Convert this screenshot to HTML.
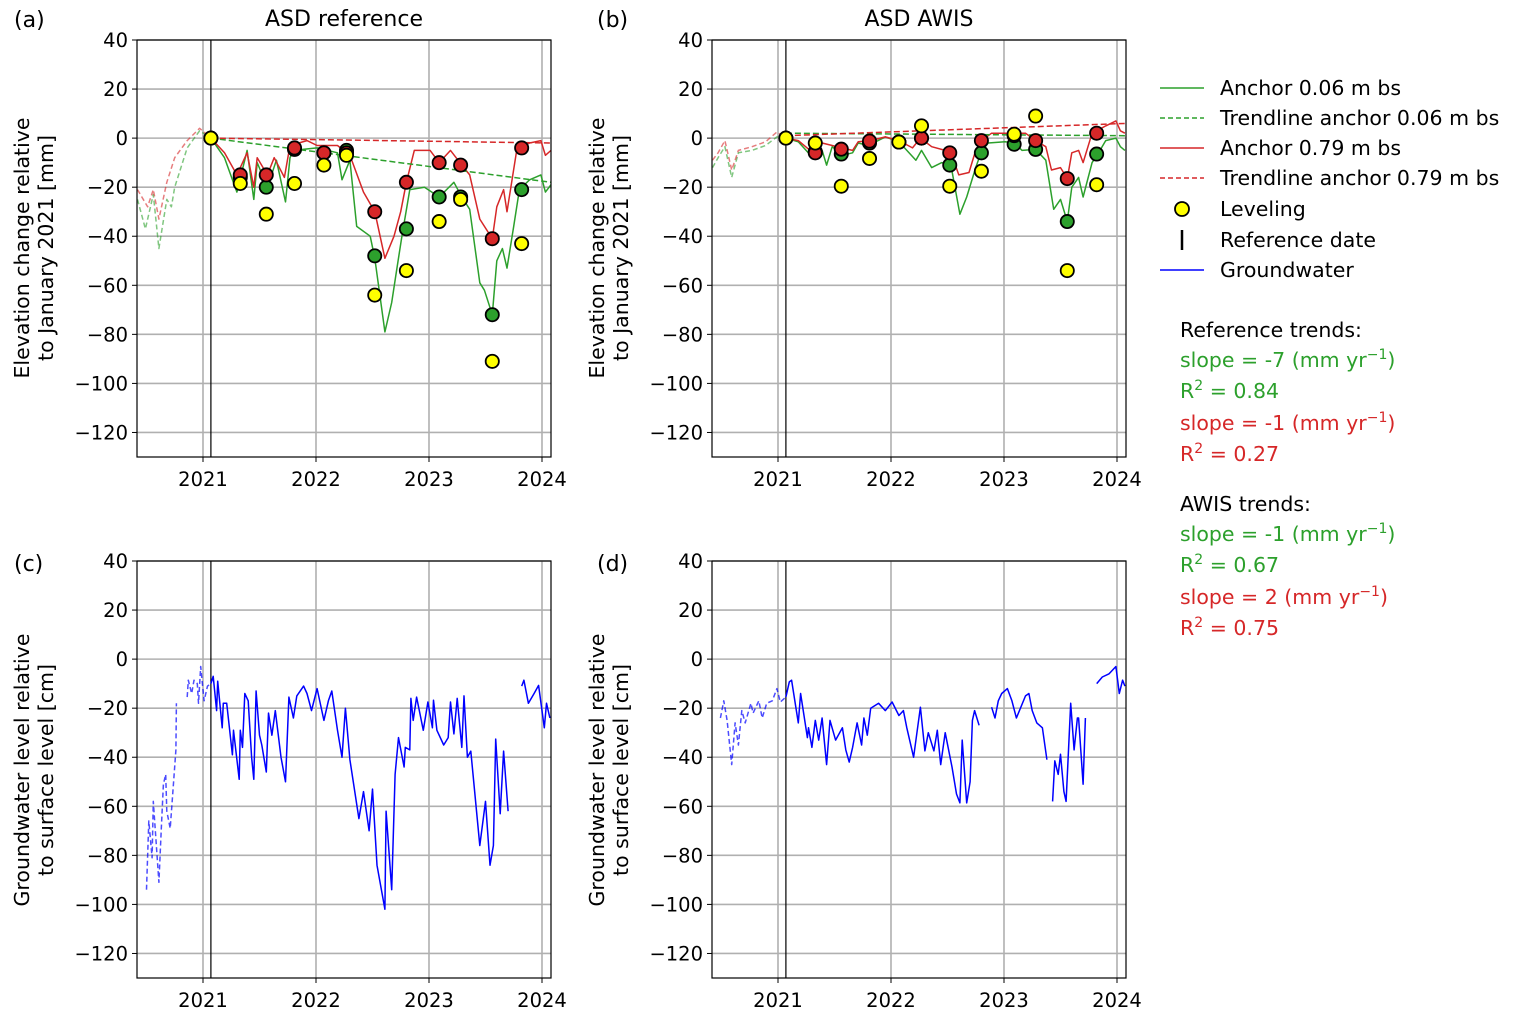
<!DOCTYPE html>
<html><head><meta charset="utf-8"><style>
html,body{margin:0;padding:0;background:#fff;}
svg{display:block;font-family:"DejaVu Sans","Liberation Sans",sans-serif;}
</style></head><body>
<svg id="fig" width="1516" height="1018" viewBox="0 0 1516 1018" xmlns="http://www.w3.org/2000/svg"></svg>
<script>
// ---------- data ----------
const xTicks = [2021, 2022, 2023, 2024];
const yTicks = [40, 20, 0, -20, -40, -60, -80, -100, -120];
const refDate = 2021.07;
const levelDates = [2021.07,2021.33,2021.56,2021.81,2022.07,2022.27,2022.52,2022.80,2023.09,2023.28,2023.56,2023.82];

// panel a (ASD reference)
const aGreenEarly = [[2020.42,-25],[2020.49,-37],[2020.56,-23],[2020.61,-45],[2020.68,-25],[2020.72,-28],[2020.75,-20],[2020.86,-4],[2020.97,3],[2021.07,0]];
const aRedEarly = [[2020.42,-21],[2020.51,-28],[2020.56,-21],[2020.61,-33],[2020.68,-18],[2020.75,-8],[2020.86,-1],[2020.97,4],[2021.07,0]];
const aGreen = [[2021.07,0],[2021.19,-8],[2021.30,-22],[2021.39,-5],[2021.45,-25],[2021.48,-10],[2021.57,-20],[2021.65,-9],[2021.73,-26],[2021.77,-8],[2021.80,-5],[2022.01,-4],[2022.19,-6],[2022.23,-17],[2022.30,-9],[2022.36,-36],[2022.48,-40],[2022.52,-49],[2022.61,-79],[2022.67,-67],[2022.71,-55],[2022.76,-40],[2022.83,-21],[2022.96,-20],[2023.09,-24],[2023.22,-18],[2023.29,-24],[2023.36,-29],[2023.45,-59],[2023.49,-62],[2023.56,-72],[2023.60,-50],[2023.65,-45],[2023.69,-53],[2023.75,-36],[2023.80,-21],[2023.89,-17],[2023.99,-15],[2024.03,-22],[2024.08,-19]];
const aRed = [[2021.07,0],[2021.19,-6],[2021.30,-15],[2021.39,-6],[2021.45,-20],[2021.48,-8],[2021.57,-15],[2021.63,-8],[2021.72,-16],[2021.77,-3],[2021.92,-1],[2022.01,-3],[2022.19,-3],[2022.30,-7],[2022.42,-22],[2022.52,-30],[2022.61,-49],[2022.69,-40],[2022.75,-30],[2022.80,-18],[2022.87,-5],[2023.01,-5],[2023.09,-10],[2023.19,-5],[2023.29,-11],[2023.36,-15],[2023.45,-33],[2023.56,-41],[2023.60,-28],[2023.66,-21],[2023.69,-30],[2023.78,-4],[2023.89,-2],[2023.99,-1],[2024.03,-7],[2024.08,-5]];
const aTrendGreen = [[2021.07,0],[2024.08,-18]];
const aTrendRed = [[2021.07,0],[2024.08,-2]];
const aLevel = [0,-18.5,-31,-18.5,-11,-7,-64,-54,-34,-25,-91,-43];
const aGreenDots = [0,-16,-20,-4.6,-6,-5,-48,-37,-24,-24,-72,-21];
const aRedDots = [0,-15,-15,-4,-6,-6,-30,-18,-10,-11,-41,-4];

// panel b (ASD AWIS)
const bGreenEarly = [[2020.42,-12],[2020.47,-8],[2020.53,-3.5],[2020.59,-16],[2020.65,-6],[2020.77,-5],[2020.89,-3],[2020.99,0.5],[2021.07,0]];
const bRedEarly = [[2020.42,-9],[2020.47,-6],[2020.53,-1],[2020.59,-13],[2020.65,-5],[2020.77,-3.5],[2020.89,-1.5],[2020.99,2.5],[2021.07,0]];
const bGreen = [[2021.07,0],[2021.18,-1.5],[2021.30,-7.6],[2021.39,-5],[2021.43,-11],[2021.48,-3.5],[2021.57,-7],[2021.66,-6],[2021.71,-2],[2021.80,-3],[2021.95,0.5],[2022.07,-1.5],[2022.22,-9],[2022.27,-5],[2022.36,-12],[2022.45,-10],[2022.53,-11],[2022.61,-31],[2022.67,-24],[2022.75,-12],[2022.80,-5.5],[2022.86,-2],[2023.01,-1.5],[2023.09,-2],[2023.16,-5],[2023.28,-4.6],[2023.37,-9],[2023.44,-29],[2023.50,-25],[2023.56,-34],[2023.60,-20],[2023.66,-16],[2023.70,-24],[2023.78,-10],[2023.83,-6.5],[2023.90,-1],[2023.99,0],[2024.03,-3.5],[2024.07,-5]];
const bRed = [[2021.07,0],[2021.18,-1],[2021.30,-5.6],[2021.39,-2],[2021.48,-3],[2021.56,-4],[2021.66,-5],[2021.71,-1.5],[2021.82,-1],[2021.95,0.5],[2022.07,-1],[2022.19,-4],[2022.26,0],[2022.36,-3.5],[2022.48,-5],[2022.53,-6],[2022.60,-15],[2022.69,-14],[2022.75,-5],[2022.80,-1],[2022.89,2],[2023.01,2],[2023.09,2],[2023.19,2],[2023.28,-1],[2023.37,-3.5],[2023.42,-13],[2023.50,-12],[2023.56,-16.5],[2023.60,-6],[2023.66,-5],[2023.70,-10],[2023.78,2],[2023.90,5],[2023.99,7],[2024.03,3],[2024.07,2]];
const bTrendGreen = [[2021.07,2],[2024.08,1]];
const bTrendRed = [[2021.07,1],[2024.08,6]];
const bLevel = [0,-2,-19.6,-8.3,-1.6,5,-19.6,-13.5,1.6,9,-54,-19];
const bGreenDots = [0,-5.5,-6.5,-2,-1.6,0,-11,-6,-2.5,-4.6,-34,-6.5];
const bRedDots = [0,-6,-4.5,-1.2,-1.6,0,-6,-1,1,-1,-16.5,2];

// panel c (groundwater reference)
const cEarly = [[2020.50,-94],[2020.52,-66],[2020.55,-81],[2020.56,-58],[2020.59,-78],[2020.61,-91],[2020.63,-70],[2020.65,-51],[2020.67,-47],[2020.68,-62],[2020.71,-69],[2020.74,-50],[2020.76,-37],[2020.765,-18],[2020.80,null],[2020.86,-15.5],[2020.87,-8.6],[2020.90,-14],[2020.92,-8.6],[2020.95,-10],[2020.96,-18],[2020.98,-3],[2021.01,-17],[2021.04,-11],[2021.07,-10]];
const cGw = [[2021.07,-10],[2021.09,-7],[2021.12,-21],[2021.13,-9],[2021.17,-28],[2021.18,-18],[2021.21,-18],[2021.26,-39],[2021.27,-29],[2021.32,-49],[2021.33,-29],[2021.35,-36],[2021.37,-14],[2021.40,-17],[2021.43,-40],[2021.45,-49],[2021.47,-13],[2021.50,-31],[2021.52,-35],[2021.56,-46],[2021.58,-22],[2021.61,-31],[2021.64,-21],[2021.69,-40],[2021.73,-50],[2021.76,-15.5],[2021.80,-24],[2021.83,-15],[2021.89,-11],[2021.92,-14],[2021.96,-21],[2022.01,-12],[2022.07,-25],[2022.11,-17],[2022.14,-13],[2022.19,-29],[2022.23,-40],[2022.26,-20],[2022.30,-41],[2022.38,-65],[2022.42,-54],[2022.47,-70],[2022.50,-53],[2022.54,-84],[2022.61,-102],[2022.62,-62],[2022.67,-94],[2022.70,-47],[2022.73,-32],[2022.78,-44],[2022.79,-36],[2022.83,-37],[2022.84,-16],[2022.86,-25],[2022.89,-15.5],[2022.95,-29],[2022.99,-17.5],[2023.03,-28],[2023.04,-16.8],[2023.07,-29],[2023.13,-35],[2023.17,-32],[2023.19,-17.5],[2023.22,-30.5],[2023.25,-16],[2023.29,-36],[2023.31,-15],[2023.34,-40],[2023.37,-37.5],[2023.45,-76],[2023.50,-58],[2023.54,-84],[2023.57,-76],[2023.59,-32.6],[2023.63,-63],[2023.66,-37.5],[2023.70,-62],[2023.76,null],[2023.82,-11],[2023.84,-8.6],[2023.88,-18],[2023.93,-14],[2023.97,-10.7],[2024.02,-28],[2024.04,-18],[2024.07,-24]];

// panel d (groundwater AWIS)
const dEarly = [[2020.49,-24],[2020.52,-17],[2020.55,-25],[2020.59,-43],[2020.62,-26],[2020.65,-35],[2020.68,-21],[2020.71,-26],[2020.76,-18],[2020.78,-22],[2020.83,-17],[2020.86,-24],[2020.90,-18],[2020.95,-17],[2020.99,-12],[2021.02,-17.5],[2021.07,-15.5]];
const dGw = [[2021.07,-15.5],[2021.10,-9.3],[2021.12,-8.6],[2021.18,-26],[2021.20,-14],[2021.26,-32],[2021.27,-28],[2021.30,-36],[2021.33,-25],[2021.36,-33],[2021.39,-24],[2021.43,-43],[2021.46,-25],[2021.51,-33],[2021.57,-28],[2021.60,-37],[2021.63,-42],[2021.66,-36],[2021.70,-26],[2021.74,-35],[2021.76,-24],[2021.79,-31],[2021.82,-20],[2021.89,-18],[2021.95,-21],[2022.01,-17.5],[2022.07,-23],[2022.11,-21],[2022.14,-28],[2022.20,-40],[2022.26,-19.6],[2022.30,-37.4],[2022.33,-30],[2022.38,-37.4],[2022.41,-29],[2022.44,-43],[2022.48,-30],[2022.54,-44],[2022.58,-55],[2022.61,-58.6],[2022.63,-33],[2022.67,-58.6],[2022.70,-50],[2022.72,-25],[2022.74,-21],[2022.78,-27],[2022.83,null],[2022.89,-19.6],[2022.92,-24],[2022.95,-17],[2022.98,-14],[2023.03,-12],[2023.07,-17],[2023.11,-24],[2023.19,-15],[2023.22,-14],[2023.25,-21],[2023.29,-26],[2023.34,-28],[2023.38,-41],[2023.40,null],[2023.43,-58],[2023.45,-41.5],[2023.48,-47],[2023.50,-38.8],[2023.53,-54],[2023.55,-58],[2023.59,-18],[2023.62,-37],[2023.65,-24],[2023.66,-24],[2023.70,-51],[2023.72,-24],[2023.76,null],[2023.82,-10],[2023.87,-7.3],[2023.93,-6],[2023.99,-3],[2024.02,-14],[2024.05,-8.6],[2024.07,-11]];

// ---------- drawing ----------
const NS = "http://www.w3.org/2000/svg";
const svg = document.getElementById('fig');
const GREEN = '#2ca02c', RED = '#d62728', BLUE = '#0000ff';
const X0 = 2020.416, PXYR = 113, YMIN = -130, YMAX = 40;

function mk(tag, attrs, parent) {
  const e = document.createElementNS(NS, tag);
  for (const k in attrs) e.setAttribute(k, attrs[k]);
  (parent || svg).appendChild(e);
  return e;
}
function txt(s, attrs, parent) { const e = mk('text', attrs, parent); e.textContent = s; return e; }

function makeAxes(L, T, W, H, id) {
  const sx = t => L + (t - X0) * PXYR;
  const sy = v => T + (YMAX - v) / (YMAX - YMIN) * H;
  const g = mk('g', {});
  
  
  const cp = mk('clipPath', { id: 'clip-' + id }, g);
  mk('rect', { x: L, y: T, width: W, height: H }, cp);
  xTicks.forEach(t => {
    const l = mk('line', { x1: sx(t), x2: sx(t), y1: T, y2: T + H, stroke: '#b0b0b0', 'stroke-width': 1.6 }, g);
    
    
    mk('line', { x1: sx(t), x2: sx(t), y1: T + H, y2: T + H + 5, stroke: '#000', 'stroke-width': 1 }, g);
    const lb = txt(String(t), { x: sx(t), y: T + H + 29, 'text-anchor': 'middle', 'font-size': 19.5 }, g);
    
    
  });
  yTicks.forEach(v => {
    const l = mk('line', { x1: L, x2: L + W, y1: sy(v), y2: sy(v), stroke: '#b0b0b0', 'stroke-width': 1.6 }, g);
    
    
    mk('line', { x1: L - 5, x2: L, y1: sy(v), y2: sy(v), stroke: '#000', 'stroke-width': 1 }, g);
    const lb = txt(String(v).replace('-', '\u2212'), { x: L - 9, y: sy(v) + 7, 'text-anchor': 'end', 'font-size': 19.5 }, g);
    
    
  });
  const ref = mk('line', { x1: sx(refDate), x2: sx(refDate), y1: T, y2: T + H, stroke: '#000', 'stroke-width': 1.2 }, g);
  
  
  const plot = mk('g', { 'clip-path': 'url(#clip-' + id + ')' }, g);
  const frame = mk('rect', { x: L, y: T, width: W, height: H, fill: 'none', stroke: '#000', 'stroke-width': 1.2 }, g);
  
  
  return { sx, sy, plot, g };
}

function line(ax, pairs, color, opts, name) {
  let d = '', pen = false;
  pairs.forEach(p => {
    if (p[1] === null) { pen = false; return; }
    d += (pen ? 'L' : 'M') + ax.sx(p[0]).toFixed(1) + ',' + ax.sy(p[1]).toFixed(1);
    pen = true;
  });
  const a = { d: d, fill: 'none', stroke: color, 'stroke-width': 1.5, 'stroke-linejoin': 'round' };
  Object.assign(a, opts || {});
  const e = mk('path', a, ax.plot);
  
  
}
function dots(ax, vals, color, name) {
  vals.forEach((v, i) => {
    const c = mk('circle', { cx: ax.sx(levelDates[i]), cy: ax.sy(v), r: 6.6, fill: color, stroke: '#000', 'stroke-width': 1.8 }, ax.g);
    
    
  });
}

function elevPanel(L, early, green, red, trG, trR, gD, rD, lev, id) {
  const ax = makeAxes(L, 40, 414, 417, id);
  line(ax, early[0], GREEN, { 'stroke-dasharray': '5,3', opacity: 0.6 }, 'anchor-006-early-dashed');
  line(ax, early[1], RED, { 'stroke-dasharray': '5,3', opacity: 0.6 }, 'anchor-079-early-dashed');
  line(ax, green, GREEN, {}, 'anchor-006-line');
  line(ax, red, RED, {}, 'anchor-079-line');
  line(ax, trG, GREEN, { 'stroke-dasharray': '6,3' }, 'trendline-anchor-006');
  line(ax, trR, RED, { 'stroke-dasharray': '6,3' }, 'trendline-anchor-079');
  dots(ax, gD, GREEN, 'anchor-006-leveling-point');
  dots(ax, rD, RED, 'anchor-079-leveling-point');
  dots(ax, lev, '#ffff00', 'leveling-point');
  return ax;
}
function gwPanel(L, early, gw, id) {
  const ax = makeAxes(L, 561, 414, 417, id);
  line(ax, early, BLUE, { 'stroke-dasharray': '5,3', opacity: 0.7 }, 'groundwater-early-dashed');
  line(ax, gw, BLUE, {}, 'groundwater-line');
  return ax;
}

elevPanel(137, [aGreenEarly, aRedEarly], aGreen, aRed, aTrendGreen, aTrendRed, aGreenDots, aRedDots, aLevel, 'panel-a');
elevPanel(712, [bGreenEarly, bRedEarly], bGreen, bRed, bTrendGreen, bTrendRed, bGreenDots, bRedDots, bLevel, 'panel-b');
gwPanel(137, cEarly, cGw, 'panel-c');
gwPanel(712, dEarly, dGw, 'panel-d');

function label(s, attrs, name) {
  const e = txt(s, attrs);
  
  
  return e;
}
label('ASD reference', { x: 344, y: 26, 'text-anchor': 'middle', 'font-size': 22 }, 'title-asd-reference');
label('ASD AWIS', { x: 919, y: 26, 'text-anchor': 'middle', 'font-size': 22 }, 'title-asd-awis');
label('(a)', { x: 14, y: 27, 'font-size': 22 }, 'panel-label-a');
label('(b)', { x: 597, y: 27, 'font-size': 22 }, 'panel-label-b');
label('(c)', { x: 14, y: 571, 'font-size': 22 }, 'panel-label-c');
label('(d)', { x: 597, y: 571, 'font-size': 22 }, 'panel-label-d');

function ylab(x, cy, l1, l2, name) {
  const e = mk('text', { transform: 'translate(' + x + ',' + cy + ') rotate(-90)', 'text-anchor': 'middle', 'font-size': 20.5 });
  
  
  const t1 = mk('tspan', { x: 0, y: 0 }, e); t1.textContent = l1;
  const t2 = mk('tspan', { x: 0, y: 24 }, e); t2.textContent = l2;
}
ylab(29, 248, 'Elevation change relative', 'to January 2021 [mm]', 'y-axis-title-a');
ylab(604, 248, 'Elevation change relative', 'to January 2021 [mm]', 'y-axis-title-b');
ylab(29, 770, 'Groundwater level relative', 'to surface level [cm]', 'y-axis-title-c');
ylab(604, 770, 'Groundwater level relative', 'to surface level [cm]', 'y-axis-title-d');

// legend
const leg = mk('g', {});


const legItems = [
  ['Anchor 0.06 m bs', 88, GREEN, ''],
  ['Trendline anchor 0.06 m bs', 118, GREEN, '5,3'],
  ['Anchor 0.79 m bs', 148, RED, ''],
  ['Trendline anchor 0.79 m bs', 178, RED, '5,3'],
];
legItems.forEach(it => {
  const l = mk('line', { x1: 1160, x2: 1204, y1: it[1], y2: it[1], stroke: it[2], 'stroke-width': 1.5, 'stroke-dasharray': it[3] || 'none' }, leg);
  
  
  const t = txt(it[0], { x: 1220, y: it[1] + 7, 'font-size': 20.5 }, leg);
  
  
});
const lc = mk('circle', { cx: 1182, cy: 209, r: 7, fill: '#ffff00', stroke: '#000', 'stroke-width': 1.8 }, leg);


const lt1 = txt('Leveling', { x: 1220, y: 216, 'font-size': 20.5 }, leg);


const lr = mk('line', { x1: 1182, x2: 1182, y1: 230, y2: 250, stroke: '#000', 'stroke-width': 2.5 }, leg);


const lt2 = txt('Reference date', { x: 1220, y: 247, 'font-size': 20.5 }, leg);


const lb = mk('line', { x1: 1160, x2: 1204, y1: 270, y2: 270, stroke: BLUE, 'stroke-width': 1.5 }, leg);


const lt3 = txt('Groundwater', { x: 1220, y: 277, 'font-size': 20.5 }, leg);



// trend annotations
const ann = mk('g', { 'font-size': 20.5 });


function annLine(y, color, parts, name) {
  const t = mk('text', { x: 1180, y: y, fill: color }, ann);
  
  
  parts.forEach(p => {
    const a = {};
    if (p[1] === 'sup') { a['font-size'] = 14; a.dy = -8; }
    else if (p[1] === 'base') { a['font-size'] = 20.5; a.dy = 8; }
    const s = mk('tspan', a, t);
    s.textContent = p[0];
  });
}
annLine(337, '#000', [['Reference trends:']], 'reference-trends-heading');
annLine(367, GREEN, [['slope = -7 (mm yr'], ['\u22121', 'sup'], [')', 'base']], 'ref-slope-green');
annLine(398, GREEN, [['R'], ['2', 'sup'], ['  = 0.84', 'base']], 'ref-r2-green');
annLine(430, RED, [['slope = -1 (mm yr'], ['\u22121', 'sup'], [')', 'base']], 'ref-slope-red');
annLine(461, RED, [['R'], ['2', 'sup'], [' = 0.27', 'base']], 'ref-r2-red');
annLine(511, '#000', [['AWIS trends:']], 'awis-trends-heading');
annLine(541, GREEN, [['slope = -1 (mm yr'], ['\u22121', 'sup'], [')', 'base']], 'awis-slope-green');
annLine(572, GREEN, [['R'], ['2', 'sup'], ['  = 0.67', 'base']], 'awis-r2-green');
annLine(604, RED, [['slope = 2 (mm yr'], ['\u22121', 'sup'], [')', 'base']], 'awis-slope-red');
annLine(635, RED, [['R'], ['2', 'sup'], ['  = 0.75', 'base']], 'awis-r2-red');
</script>
</body></html>
